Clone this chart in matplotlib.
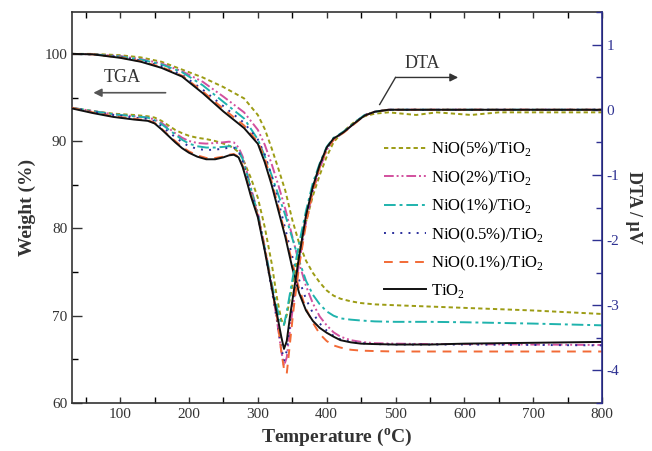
import numpy as np
import matplotlib
matplotlib.use('Agg')
import matplotlib.pyplot as plt

plt.rcParams['font.family'] = ['Liberation Serif', 'DejaVu Serif']
plt.rcParams['mathtext.fontset'] = 'custom'
plt.rcParams['mathtext.rm'] = 'Liberation Serif'
plt.rcParams['mathtext.bf'] = 'Liberation Serif:bold'
plt.rcParams['axes.unicode_minus'] = False

# ---- data ----
labels = ['NiO(5%)/TiO$_2$', 'NiO(2%)/TiO$_2$', 'NiO(1%)/TiO$_2$',
          'NiO(0.5%)/TiO$_2$', 'NiO(0.1%)/TiO$_2$', 'TiO$_2$']

# TGA, weight (%)
t_tga = [30, 60, 100, 130, 160, 190, 220, 250, 280, 300, 310, 320, 330, 340,
         350, 360, 370, 380, 390, 400, 410, 420, 435, 450, 470, 500, 550, 600,
         700, 800]
tga_5 = [100.0, 100.0, 99.85, 99.6, 99.1, 98.2, 97.3, 96.2, 94.9, 93.0, 91.4,
         89.2, 86.8, 84.3, 81.0, 78.3, 76.3, 74.9, 73.8, 72.9, 72.3, 71.95,
         71.65, 71.45, 71.3, 71.2, 71.05, 70.9, 70.6, 70.2]
tga_2 = [100.0, 99.95, 99.75, 99.4, 98.9, 98.0, 96.8, 95.1, 93.3, 91.3, 89.6,
         87.4, 84.9, 82.2, 79.1, 76.0, 73.4, 71.4, 69.9, 68.9, 68.1, 67.6,
         67.2, 67.0, 66.85, 66.8, 66.75, 66.75, 66.7, 66.65]
tga_1 = [100.0, 99.95, 99.7, 99.35, 98.8, 97.9, 96.4, 94.5, 92.6, 90.2, 88.3,
         86.1, 83.8, 81.5, 78.9, 76.3, 74.0, 72.4, 71.3, 70.5, 70.0, 69.7,
         69.55, 69.45, 69.35, 69.3, 69.3, 69.25, 69.1, 68.9]
tga_05 = [100.0, 99.95, 99.65, 99.25, 98.6, 97.6, 95.9, 94.0, 92.1, 90.2, 88.5,
          86.0, 83.1, 79.9, 76.8, 74.1, 71.9, 70.3, 69.1, 68.3, 67.7, 67.3,
          67.0, 66.85, 66.75, 66.7, 66.7, 66.7, 66.65, 66.6]
tga_01 = [100.0, 99.95, 99.6, 99.15, 98.5, 97.5, 95.7, 93.7, 91.8, 89.9, 88.1,
          85.4, 82.4, 79.3, 76.1, 73.1, 70.8, 69.2, 67.9, 67.1, 66.6, 66.35,
          66.1, 66.0, 65.95, 65.9, 65.9, 65.9, 65.9, 65.9]
tga_0 = [100.0, 99.95, 99.55, 99.1, 98.4, 97.4, 95.5, 93.4, 91.5, 89.7, 87.6,
         85.0, 82.0, 79.0, 75.5, 72.6, 70.6, 69.4, 68.6, 68.05, 67.6, 67.2,
         66.95, 66.8, 66.75, 66.7, 66.7, 66.8, 66.9, 67.0]

# DTA (uV)
t_dta = [30, 60, 90, 120, 140, 150, 160, 170, 180, 190, 200, 212, 225, 238,
         250, 258, 265, 272, 278, 284, 290, 300, 310, 320, 328, 334, 338, 342,
         347, 352, 360, 370, 380, 390, 400, 410, 418, 425, 432, 440, 455, 470,
         490, 530, 560, 610, 650, 700, 800]
dta_5 = [0.03, -0.02, -0.06, -0.08, -0.10, -0.12, -0.17, -0.24, -0.31, -0.36,
         -0.40, -0.43, -0.45, -0.48, -0.52, -0.55, -0.59, -0.65, -0.75, -0.90,
         -1.05, -1.35, -1.80, -2.35, -2.90, -3.22, -3.30, -3.15, -2.88, -2.58,
         -2.15, -1.72, -1.32, -1.00, -0.72, -0.50, -0.40, -0.33, -0.26, -0.19,
         -0.10, -0.06, -0.04, -0.08, -0.04, -0.08, -0.04, -0.04, -0.04]
dta_2 = [0.03, -0.02, -0.07, -0.10, -0.12, -0.15, -0.20, -0.28, -0.36, -0.43,
         -0.48, -0.51, -0.52, -0.51, -0.50, -0.49, -0.50, -0.58, -0.72, -0.95,
         -1.20, -1.58, -2.10, -2.70, -3.25, -3.70, -3.93, -3.80, -3.35, -2.95,
         -2.35, -1.72, -1.25, -0.90, -0.62, -0.46, -0.40, -0.34, -0.28, -0.21,
         -0.09, -0.03, 0.0, 0.0, 0.0, 0.0, 0.0, 0.0, 0.0]
dta_1 = [0.03, -0.02, -0.07, -0.10, -0.12, -0.16, -0.22, -0.30, -0.38, -0.46,
         -0.52, -0.56, -0.58, -0.58, -0.57, -0.56, -0.56, -0.62, -0.76, -0.98,
         -1.22, -1.60, -2.12, -2.65, -3.05, -3.28, -3.30, -3.10, -2.80, -2.50,
         -2.05, -1.55, -1.12, -0.82, -0.57, -0.43, -0.38, -0.33, -0.27, -0.20,
         -0.08, -0.03, 0.0, 0.0, 0.0, 0.0, 0.0, 0.0, 0.0]
dta_05 = [0.03, -0.03, -0.08, -0.12, -0.14, -0.18, -0.25, -0.34, -0.42, -0.50,
          -0.56, -0.60, -0.62, -0.61, -0.60, -0.58, -0.58, -0.64, -0.80, -1.02,
          -1.25, -1.62, -2.15, -2.75, -3.25, -3.65, -3.85, -3.70, -3.25, -2.85,
          -2.25, -1.65, -1.20, -0.86, -0.60, -0.45, -0.39, -0.34, -0.28, -0.21,
          -0.08, -0.03, 0.0, 0.0, 0.0, 0.0, 0.0, 0.0, 0.0]
dta_01 = [0.03, -0.04, -0.10, -0.14, -0.16, -0.20, -0.29, -0.39, -0.48, -0.57,
          -0.64, -0.70, -0.74, -0.74, -0.72, -0.69, -0.68, -0.72, -0.86, -1.08,
          -1.30, -1.62, -2.12, -2.70, -3.20, -3.70, -3.98, -4.05, -3.55, -3.05,
          -2.40, -1.75, -1.25, -0.88, -0.61, -0.46, -0.40, -0.35, -0.29, -0.22,
          -0.09, -0.03, 0.0, 0.0, 0.0, 0.0, 0.0, 0.0, 0.0]
dta_0 = [0.02, -0.05, -0.11, -0.15, -0.17, -0.21, -0.30, -0.40, -0.50, -0.59,
         -0.66, -0.72, -0.76, -0.76, -0.73, -0.70, -0.69, -0.73, -0.88, -1.10,
         -1.33, -1.65, -2.16, -2.72, -3.15, -3.48, -3.67, -3.55, -3.15, -2.80,
         -2.25, -1.62, -1.18, -0.84, -0.58, -0.44, -0.39, -0.34, -0.28, -0.21,
         -0.09, -0.03, 0.0, 0.0, 0.0, 0.0, 0.0, 0.0, 0.0]

tga = [tga_5, tga_2, tga_1, tga_05, tga_01, tga_0]
dta = [dta_5, dta_2, dta_1, dta_05, dta_01, dta_0]

colors = ['#9c9c14', '#d2509e', '#1fb3ad', '#2b2f9c', '#f26a36', '#111111']
dashes = [(2.2, 1.6), (5, 1.5, 1, 1.5, 1, 1.5), (6, 2, 1.5, 2),
          (1, 3.2), (4.5, 3.5), None]

navy = '#2e3192'
gray = '#333333'

fig = plt.figure(figsize=(6.52, 4.51), dpi=100)
ax = fig.add_axes([72/652, 1-403/451, 530/652, 391/451])
ax2 = ax.twinx()

handles = []
for w, d, c, ds, lab in zip(tga, dta, colors, dashes, labels):
    kw = dict(color=c, lw=1.4)
    if ds is not None:
        kw['dashes'] = ds
    ax.plot(t_tga, w, **kw)
    h, = ax2.plot(t_dta, d, label=lab, **kw)
    handles.append(h)

ax.set_xlim(30, 800)
ax.set_ylim(60, 104.8)
ax2.set_ylim(-4.5, 1.5)

ax.set_xticks(np.arange(100, 801, 100))
ax.set_xticks(np.arange(50, 801, 50), minor=True)
ax.set_yticks(np.arange(60, 101, 10))
ax.set_yticks(np.arange(65, 101, 10), minor=True)
ax2.set_yticks(np.arange(-4, 1.1, 1))
ax2.set_yticks(np.arange(-4.5, 1.6, 1), minor=True)

ax.tick_params(axis='both', which='major', direction='in', length=7,
               width=1, labelsize=11, colors=gray, top=False)
ax.tick_params(axis='both', which='minor', direction='in', length=4,
               width=1, top=True)
ax.tick_params(axis='x', which='major', top=True, length=4)
ax2.tick_params(axis='y', which='major', direction='in', length=7, width=1,
                colors=navy, labelsize=11)
ax2.tick_params(axis='y', which='minor', direction='in', length=4, width=1,
                colors=navy)

for s in ['left', 'bottom', 'top']:
    ax.spines[s].set_color(gray)
    ax.spines[s].set_linewidth(1.2)
ax2.spines['right'].set_color(navy)
ax2.spines['right'].set_linewidth(1.2)
ax2.spines['left'].set_visible(False)
ax2.spines['top'].set_visible(False)
ax2.spines['bottom'].set_visible(False)

ax.set_xlabel('Temperature ($^{\\mathbf{o}}$C)', fontsize=14,
              fontweight='bold', color=gray, labelpad=4)
ax.set_ylabel('Weight (%)', fontsize=14, fontweight='bold', color=gray,
              labelpad=6)
ax2.set_ylabel('DTA / \u03bcV', fontsize=13, fontweight='bold', color=gray,
               rotation=-90, labelpad=16)

# annotations
ax.text(103, 97.3, 'TGA', fontsize=13, ha='center', va='center', color=gray)
ax.annotate('', xy=(57, 95.55), xytext=(170, 95.55),
            arrowprops=dict(arrowstyle='-|>', color='#555555', lw=1.2,
                            mutation_scale=12))
ax.text(539, 98.9, 'DTA', fontsize=13, ha='center', va='center', color=gray)
ax.plot([477, 500], [94.2, 97.3], color=gray, lw=1)
ax.annotate('', xy=(591, 97.3), xytext=(500, 97.3),
            arrowprops=dict(arrowstyle='-|>', color=gray, lw=1,
                            mutation_scale=12, shrinkA=0, shrinkB=0))

ax2.legend(handles=handles, loc='upper left', bbox_to_anchor=(0.589, 0.672),
           frameon=False, fontsize=12, handlelength=2.5, handletextpad=0.3,
           labelspacing=0.55, borderpad=0, borderaxespad=0)

fig.savefig('out.png', dpi=100)
